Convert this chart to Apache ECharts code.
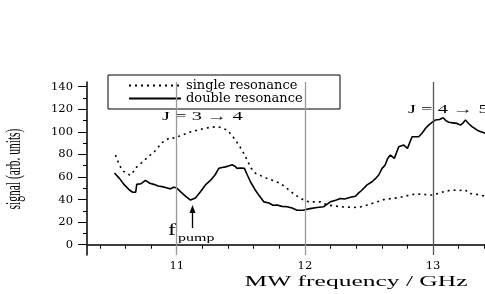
<!DOCTYPE html>
<html>
<head>
<meta charset="utf-8">
<script src="https://cdn.jsdelivr.net/npm/echarts@6/dist/echarts.min.js"></script>
<style>html,body{margin:0;padding:0;background:#fff}#c{width:485px;height:294px}</style>
</head>
<body>
<div id="c"></div>
<script>
// ---- data ----
const singleX = [10.522,10.548,10.574,10.605,10.639,10.66,10.678,10.72,10.769,10.83,10.886,10.92,10.951,10.98,11.003,11.05,11.107,11.16,11.211,11.26,11.315,11.355,11.393,11.43,11.458,11.485,11.51,11.549,11.58,11.614,11.66,11.705,11.76,11.809,11.87,11.926,11.991,12.03,12.069,12.121,12.173,12.24,12.303,12.381,12.43,12.485,12.55,12.615,12.68,12.745,12.8,12.862,12.93,12.992,13.04,13.083,13.148,13.2,13.252,13.278,13.32,13.369,13.408];
const singleY = [79.5,72,66,63.5,61.5,64.5,68,72,77,83,90.5,93,95,94.5,95.5,97.5,100,101.5,103,104,104.6,103.5,101.6,97,92.8,88,83.9,75,68,63.3,61,58.8,56.5,54.4,49,44,39.6,38,38,38,35.2,34.2,33.5,33,33.5,35.2,37.5,40,41,42,43.5,45,44.5,44,45.5,47,48.5,48,48.5,45.5,45,44,43];
const doubleX = [10.514,10.553,10.592,10.631,10.657,10.68,10.688,10.72,10.756,10.79,10.821,10.855,10.886,10.92,10.951,10.975,10.998,11.029,11.068,11.107,11.12,11.146,11.185,11.224,11.263,11.3,11.328,11.355,11.38,11.41,11.432,11.455,11.471,11.5,11.528,11.55,11.575,11.61,11.64,11.679,11.72,11.75,11.783,11.82,11.861,11.9,11.939,11.991,12.04,12.095,12.147,12.199,12.24,12.277,12.31,12.355,12.394,12.42,12.446,12.485,12.524,12.55,12.576,12.602,12.625,12.646,12.667,12.698,12.732,12.771,12.8,12.836,12.888,12.915,12.94,12.965,12.992,13.017,13.05,13.078,13.1,13.122,13.155,13.187,13.213,13.235,13.252,13.28,13.304,13.356,13.408];
const doubleY = [63.5,58.8,53,48.5,46.5,46.5,53.5,54,57,54.5,53.5,52,51.5,50.5,49.5,51,50.5,47,43,39.6,38,41.5,47,53,57,62,67.7,68.5,69,70,70.8,69.5,67.7,68,67.7,62,55.8,49,44,38,37,35,35.2,34,33.7,32.5,30.5,30.7,32,33,33.7,38,39.5,41,40.5,42,43,46,48.5,53,55.8,58.5,61.8,67.7,70.5,76.5,79.5,76.5,86.8,88.3,85.4,95.7,95.7,99,103,106,108.5,110.5,111,112.5,110,108.5,108,107.5,106,108,110.5,107,104.6,100.7,98.7];
const seriesNames = ['single resonance', 'double resonance'];
const xLabelValues = [11, 12, 13];
const xTickValues = [10.4,10.6,10.8,11,11.2,11.4,11.6,11.8,12,12.2,12.4,12.6,12.8,13,13.2,13.4];
const yLabelValues = [0,20,40,60,80,100,120,140];
const yMinorTickValues = [10,30,50,70,90,110,130];
const transitionLines = [11, 12, 13];

const zip = (xs, ys) => xs.map((x, i) => [x, ys[i]]);

const chart = echarts.init(document.getElementById('c'));
chart.setOption({
  animation: false,
  backgroundColor: '#fff',
  grid: { left: 87, right: 0, top: 82, bottom: 39 },
  xAxis: {
    type: 'value', min: 10.3, max: 13.405,
    axisLine: { lineStyle: { color: '#000', width: 1.5 } },
    axisTick: { customValues: xTickValues, length: 4, lineStyle: { color: '#000' } },
    axisLabel: { customValues: xLabelValues, margin: 5, color: '#000', fontFamily: 'DejaVu Serif', fontSize: 11.5 },
    splitLine: { show: false }
  },
  yAxis: [{
    type: 'value', min: -9.1, max: 144.2,
    axisLine: { show: true, lineStyle: { color: '#000', width: 1.5 } },
    axisTick: { show: true, customValues: yLabelValues, length: 9, lineStyle: { color: '#000' } },
    axisLabel: { customValues: yLabelValues, margin: 14, color: '#000', fontFamily: 'DejaVu Serif', fontSize: 11.5 },
    splitLine: { show: false }
  }, {
    type: 'value', min: -9.1, max: 144.2, position: 'left', offset: 0,
    axisLine: { show: false },
    axisTick: { show: true, customValues: yMinorTickValues, length: 4, lineStyle: { color: '#000' } },
    axisLabel: { show: false },
    splitLine: { show: false }
  }],
  legend: {
    left: 108, top: 75, orient: 'vertical', itemGap: 0,
    itemWidth: 52, itemHeight: 8,
    padding: [4, 14, 4, 20],
    borderColor: '#000', borderWidth: 1,
    itemStyle: { opacity: 0 },
    textStyle: { fontFamily: 'DejaVu Serif', fontSize: 13, color: '#000', lineHeight: 11, width: 140 },
    data: seriesNames
  },
  series: [{
    name: seriesNames[0], type: 'line', symbol: 'none', data: zip(singleX, singleY),
    lineStyle: { color: '#000', width: 1.6, type: [2, 4] }, itemStyle: { color: '#000' }
  }, {
    name: seriesNames[1], type: 'line', symbol: 'none', data: zip(doubleX, doubleY),
    lineStyle: { color: '#000', width: 1.6 }, itemStyle: { color: '#000' },
    markLine: {
      silent: true, symbol: 'none', label: { show: false },
      data: transitionLines.map((v, i) => ({ xAxis: v, lineStyle: { color: i === 2 ? '#555' : '#999', width: 1.3, type: 'solid' } }))
    }
  }],
  graphic: [
    { type: 'text', x: 15, y: 169, rotation: Math.PI / 2, scaleY: 1.8,
      style: { text: 'signal (arb. units)', font: '11.5px "Liberation Serif"', fill: '#000', align: 'center', verticalAlign: 'middle' } },
    { type: 'text', x: 356, y: 282, scaleX: 1.7,
      style: { text: 'MW frequency / GHz', font: '15px "Liberation Serif"', fill: '#000', align: 'center', verticalAlign: 'middle' } },
    { type: 'text', x: 162, y: 117, scaleX: 1.7,
      style: { text: 'J = 3 \u2192 4', font: '12px "Liberation Serif"', fill: '#000', align: 'left', verticalAlign: 'middle' } },
    { type: 'text', x: 408, y: 110, scaleX: 1.7,
      style: { text: 'J = 4 \u2192 5', font: '12px "Liberation Serif"', fill: '#000', align: 'left', verticalAlign: 'middle' } },
    { type: 'text', x: 168, y: 231, scaleX: 1.4,
      style: { text: 'f', font: '17px "Liberation Serif"', fill: '#000', align: 'left', verticalAlign: 'middle' } },
    { type: 'text', x: 178, y: 238, scaleX: 1.6,
      style: { text: 'pump', font: '10px "Liberation Serif"', fill: '#000', align: 'left', verticalAlign: 'middle' } },
    { type: 'line', shape: { x1: 192.5, y1: 228, x2: 192.5, y2: 211 }, style: { stroke: '#000', lineWidth: 1.3 } },
    { type: 'polygon', shape: { points: [[192.5, 205], [189.5, 213], [195.5, 213]] }, style: { fill: '#000' } }
  ]
});
</script>
</body>
</html>
